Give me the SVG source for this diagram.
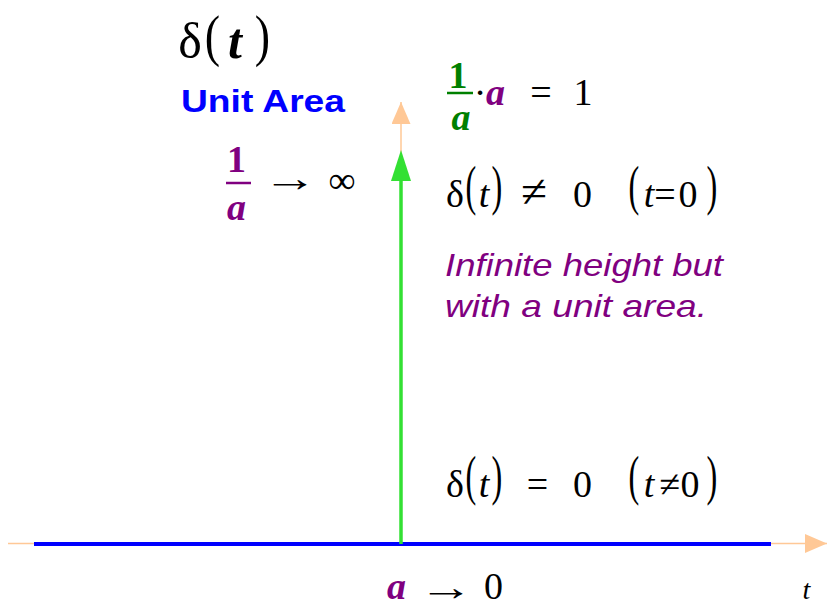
<svg xmlns="http://www.w3.org/2000/svg" width="827" height="605" viewBox="0 0 827 605">
<style>
.m{font-family:"Liberation Serif","DejaVu Serif",serif;font-size:38px;fill:#000;text-anchor:middle}
.fr{font-weight:bold}
.bi{font-weight:bold;font-style:italic}
.it{font-style:italic}
.pu{fill:#800080}
.gr{fill:#008000}
.note{font-family:"Liberation Sans",Arial,sans-serif;font-style:italic;font-size:32px;fill:#800080}
</style>
<defs>
<marker id="peach" viewBox="0 0 22 19" refX="22" refY="9.5" markerWidth="22" markerHeight="19" markerUnits="userSpaceOnUse" orient="auto"><path d="M0,0 L22,9.5 L0,19 Z" fill="#ffc896"/></marker>
</defs>
<rect width="827" height="605" fill="#fff"/>
<g id="connectors">
<line x1="8" y1="543.5" x2="827" y2="543.5" stroke="#ffc896" stroke-width="1.5" marker-end="url(#peach)"/>
<line x1="401" y1="545" x2="401" y2="102" stroke="#ffc896" stroke-width="1.5" marker-end="url(#peach)"/>
<line x1="34" y1="544" x2="771" y2="544" stroke="#0000ff" stroke-width="4"/>
<path d="M401,544 L401,178" stroke="#33e033" stroke-width="3.5" fill="none"/>
<path d="M391,181 L401,150 L411,181 Z" fill="#33e033"/>
</g>
<g id="title">
<text class="m" style="font-size:50px"><tspan x="190" y="58">δ</tspan><tspan x="235" y="58" class="bi">t</tspan></text>
<text class="m" style="font-size:46px" transform="matrix(1,0,0,1.25,212.5,54.6)">(</text>
<text class="m" style="font-size:46px" transform="matrix(1,0,0,1.25,262.5,54.6)">)</text>
<text x="181" y="112" font-family="Liberation Sans,Arial,sans-serif" font-weight="bold" font-size="32" fill="#0000ff" textLength="164" lengthAdjust="spacingAndGlyphs">Unit Area</text>
</g>
<g id="product">
<text class="m fr gr" x="458" y="88">1</text>
<line x1="447" y1="93" x2="473" y2="93" stroke="#008000" stroke-width="2.5"/>
<text class="m bi gr" x="461" y="130">a</text>
<text class="m"><tspan x="480" y="105">·</tspan><tspan x="495.5" y="105" class="bi pu">a</tspan><tspan x="541" y="105">=</tspan><tspan x="583" y="105">1</tspan></text>
</g>
<g id="limit-height">
<text class="m fr pu" x="236.5" y="172">1</text>
<line x1="226" y1="183" x2="251" y2="183" stroke="#800080" stroke-width="2.5"/>
<text class="m bi pu" x="236.5" y="220">a</text>
<text class="m" transform="matrix(1.45,0,0,1,290,191)">→</text>
<text class="m" x="342" y="193">∞</text>
</g>
<g id="nonzero">
<text class="m"><tspan x="455" y="207">δ</tspan><tspan x="484" y="207" class="it">t</tspan><tspan x="582.5" y="207">0</tspan><tspan x="649" y="207" class="it">t</tspan><tspan x="665" y="207">=</tspan><tspan x="688" y="207">0</tspan></text>
<text class="m" transform="matrix(1.25,0,0,1.2,534,207)">≠</text>
<text class="m" transform="matrix(0.85,0,0,1.44,471,203.7)">(</text>
<text class="m" transform="matrix(0.85,0,0,1.44,497,203.7)">)</text>
<text class="m" transform="matrix(0.85,0,0,1.44,634,203.7)">(</text>
<text class="m" transform="matrix(0.85,0,0,1.44,712,203.7)">)</text>
</g>
<g id="note">
<text class="note" x="445" y="276" textLength="278" lengthAdjust="spacingAndGlyphs">Infinite height but</text>
<text class="note" x="445" y="317" textLength="262" lengthAdjust="spacingAndGlyphs">with a unit area.</text>
</g>
<g id="zero">
<text class="m"><tspan x="455" y="497">δ</tspan><tspan x="484" y="497" class="it">t</tspan><tspan x="537.5" y="497">=</tspan><tspan x="582.5" y="497">0</tspan><tspan x="649" y="497" class="it">t</tspan><tspan x="670" y="497">≠</tspan><tspan x="690" y="497">0</tspan></text>
<text class="m" transform="matrix(0.85,0,0,1.44,471,493.7)">(</text>
<text class="m" transform="matrix(0.85,0,0,1.44,497,493.7)">)</text>
<text class="m" transform="matrix(0.85,0,0,1.44,634,493.7)">(</text>
<text class="m" transform="matrix(0.85,0,0,1.44,712,493.7)">)</text>
</g>
<g id="limit-width">
<text class="m"><tspan x="396.5" y="599" class="bi pu">a</tspan><tspan x="493.5" y="599">0</tspan></text>
<text class="m" transform="matrix(1.45,0,0,1,446,600)">→</text>
</g>
<g id="axis-label">
<text class="m it" style="font-size:28px" x="806.5" y="599">t</text>
</g>
</svg>
